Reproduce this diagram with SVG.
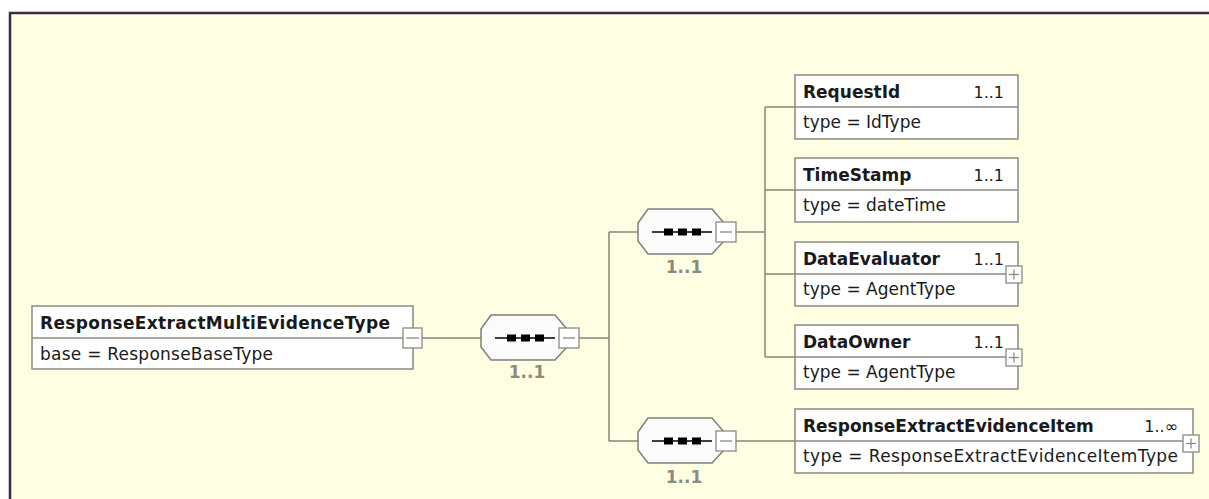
<svg xmlns="http://www.w3.org/2000/svg" width="1209" height="499" viewBox="0 0 1209 499">
  <defs>
    <style>
      .frame { fill: #fefee2; stroke: #3a2a46; stroke-width: 2.5; }
      .box { fill: #ffffff; stroke: #8a8a80; stroke-width: 1.5; }
      .div { stroke: #8a8a80; stroke-width: 1.5; }
      .seq { fill: #fbfbfb; stroke: #7f7f78; stroke-width: 1.5; }
      .btn { fill: #ffffff; stroke: #8a8a80; stroke-width: 1.3; }
      .sign { stroke: #8a8a80; stroke-width: 1.3; }
      .conn { stroke: #85857a; stroke-width: 1.5; fill: none; }
      .title { font-family: "DejaVu Sans", Verdana, sans-serif; font-size: 17px; font-weight: bold; fill: #1a1a1a; }
      .sub { font-family: "DejaVu Sans", Verdana, sans-serif; font-size: 17px; fill: #1a1a1a; }
      .card { font-family: "DejaVu Sans", Verdana, sans-serif; font-size: 16px; fill: #1a1a1a; }
      .scard { font-family: "DejaVu Sans", Verdana, sans-serif; font-size: 17px; font-weight: bold; fill: #8a8a80; }
    </style>
    <g id="seqshape">
      <polygon class="seq" points="0,-9 10,-23 74,-23 86,-9 86,9 74,22 10,22 0,9"/>
      <line x1="14" y1="0" x2="74" y2="0" stroke="#000" stroke-width="1.5"/>
      <rect x="26" y="-3.5" width="9" height="7" fill="#000"/>
      <rect x="40" y="-3.5" width="9" height="7" fill="#000"/>
      <rect x="54" y="-3.5" width="9" height="7" fill="#000"/>
      <rect class="btn" x="78" y="-10" width="20" height="20"/>
      <line class="sign" x1="82" y1="0" x2="94" y2="0"/>
    </g>
    <g id="plus">
      <rect class="btn" x="0" y="0" width="16" height="17"/>
      <line class="sign" x1="3" y1="8.5" x2="13" y2="8.5"/>
      <line class="sign" x1="8" y1="3.5" x2="8" y2="13.5"/>
    </g>
  </defs>

  <rect x="0" y="0" width="1209" height="499" fill="#ffffff"/>
  <rect class="frame" x="10" y="13" width="1260" height="560"/>

  <g id="connectors">
    <line class="conn" x1="422" y1="338" x2="481" y2="338"/>
    <line class="conn" x1="579" y1="338" x2="609" y2="338"/>
    <line class="conn" x1="609" y1="232" x2="609" y2="441"/>
    <line class="conn" x1="609" y1="232" x2="638" y2="232"/>
    <line class="conn" x1="609" y1="441" x2="638" y2="441"/>
    <line class="conn" x1="736" y1="232" x2="765" y2="232"/>
    <line class="conn" x1="765" y1="107" x2="765" y2="357"/>
    <line class="conn" x1="765" y1="107" x2="795" y2="107"/>
    <line class="conn" x1="765" y1="190" x2="795" y2="190"/>
    <line class="conn" x1="765" y1="274" x2="795" y2="274"/>
    <line class="conn" x1="765" y1="357" x2="795" y2="357"/>
    <line class="conn" x1="736" y1="441" x2="795" y2="441"/>
  </g>

  <g id="node-root">
    <rect class="box" x="32" y="306" width="381" height="63"/>
    <line class="div" x1="32" y1="338" x2="413" y2="338"/>
    <text class="title" x="40" y="329" textLength="350">ResponseExtractMultiEvidenceType</text>
    <text class="sub" x="40" y="360" textLength="233">base = ResponseBaseType</text>
    <rect class="btn" x="403" y="328" width="19" height="20"/>
    <line class="sign" x1="406" y1="338" x2="419" y2="338"/>
  </g>

  <g id="node-seq-main">
    <use href="#seqshape" x="481" y="338"/>
    <text class="scard" x="527" y="378" text-anchor="middle">1..1</text>
  </g>

  <g id="node-seq-top">
    <use href="#seqshape" x="638" y="232"/>
    <text class="scard" x="684" y="273" text-anchor="middle">1..1</text>
  </g>

  <g id="node-seq-bottom">
    <use href="#seqshape" x="638" y="441"/>
    <text class="scard" x="684" y="483" text-anchor="middle">1..1</text>
  </g>

  <g id="node-requestid">
    <rect class="box" x="795" y="75" width="223" height="64"/>
    <line class="div" x1="795" y1="107" x2="1018" y2="107"/>
    <text class="title" x="803" y="98">RequestId</text>
    <text class="card" x="1004" y="98" text-anchor="end">1..1</text>
    <text class="sub" x="803" y="128">type = IdType</text>
  </g>

  <g id="node-timestamp">
    <rect class="box" x="795" y="158" width="223" height="64"/>
    <line class="div" x1="795" y1="190" x2="1018" y2="190"/>
    <text class="title" x="803" y="181">TimeStamp</text>
    <text class="card" x="1004" y="181" text-anchor="end">1..1</text>
    <text class="sub" x="803" y="211">type = dateTime</text>
  </g>

  <g id="node-dataevaluator">
    <rect class="box" x="795" y="242" width="223" height="64"/>
    <line class="div" x1="795" y1="274" x2="1018" y2="274"/>
    <text class="title" x="803" y="265">DataEvaluator</text>
    <text class="card" x="1004" y="265" text-anchor="end">1..1</text>
    <text class="sub" x="803" y="295">type = AgentType</text>
    <use href="#plus" x="1006" y="266"/>
  </g>

  <g id="node-dataowner">
    <rect class="box" x="795" y="325" width="223" height="64"/>
    <line class="div" x1="795" y1="357" x2="1018" y2="357"/>
    <text class="title" x="803" y="348">DataOwner</text>
    <text class="card" x="1004" y="348" text-anchor="end">1..1</text>
    <text class="sub" x="803" y="378">type = AgentType</text>
    <use href="#plus" x="1006" y="349"/>
  </g>

  <g id="node-evidenceitem">
    <rect class="box" x="795" y="409" width="398" height="64"/>
    <line class="div" x1="795" y1="441" x2="1193" y2="441"/>
    <text class="title" x="803" y="432">ResponseExtractEvidenceItem</text>
    <text class="card" x="1178" y="432" text-anchor="end">1..∞</text>
    <text class="sub" x="803" y="462" textLength="375">type = ResponseExtractEvidenceItemType</text>
    <use href="#plus" x="1183" y="435"/>
  </g>
</svg>
